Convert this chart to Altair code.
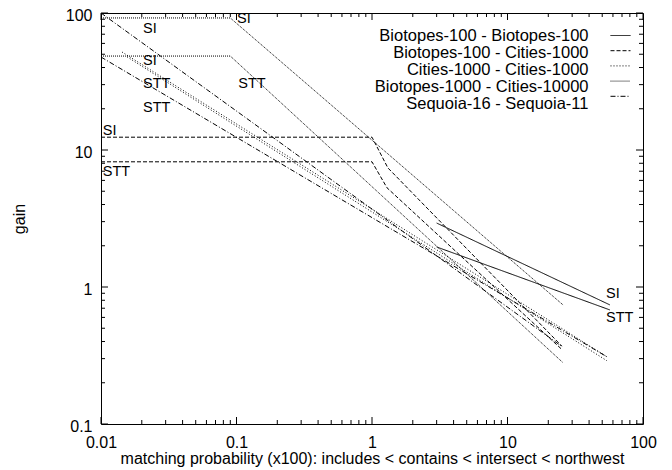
import altair as alt
import pandas as pd

FONT = "Liberation Sans"
W, H = 542, 411

series_names = [
    "Biotopes-100 - Biotopes-100",
    "Biotopes-100 - Cities-1000",
    "Cities-1000 - Cities-1000",
    "Biotopes-1000 - Cities-10000",
    "Sequoia-16 - Sequoia-11",
]
dash_styles = [[1, 0], [4, 2], [1, 2], [1, 1], [5, 2, 1, 2]]

# --- data (x = matching probability x100, y = gain) ---
bio100_si_x = [3.0, 57.0]
bio100_si_y = [2.93, 0.74]
bio100_stt_x = [3.0, 57.0]
bio100_stt_y = [1.96, 0.68]

bc_si_x = [0.01, 1.0, 1.31, 25.2]
bc_si_y = [12.4, 12.4, 7.4, 0.37]
bc_stt_x = [0.01, 1.0, 1.29, 25.2]
bc_stt_y = [8.2, 8.2, 5.3, 0.35]

cc_si_x = [0.0143, 54.0]
cc_si_y = [51.9, 0.31]
cc_stt_x = [0.0156, 54.0]
cc_stt_y = [47.8, 0.29]

b1c_si_x = [0.01, 0.09, 25.7]
b1c_si_y = [92.0, 92.0, 0.74]
b1c_stt_x = [0.01, 0.09, 25.7]
b1c_stt_y = [48.5, 48.5, 0.28]

seq_si_x = [0.01, 25.0]
seq_si_y = [100.0, 0.37]
seq_stt_x = [0.01, 54.0]
seq_stt_y = [47.7, 0.31]

# SI / STT annotations
label_text = ["SI", "SI", "STT", "STT", "SI", "STT", "SI", "STT", "SI", "STT"]
label_x = [0.0204, 0.0204, 0.0204, 0.0204, 0.101, 0.103, 0.0103, 0.0103, 53.3, 53.3]
label_y = [76.4, 44.7, 30.3, 20.3, 90.4, 30.3, 13.8, 6.9, 0.89, 0.59]

x_major = [0.01, 0.1, 1, 10, 100]
y_major = [0.1, 1, 10, 100]
x_minor = [m * d for d in [0.01, 0.1, 1, 10] for m in range(2, 10)]
y_minor = [m * d for d in [0.1, 1, 10] for m in range(2, 10)]

# --- build tables ---
lines = [
    (series_names[0], "SI", bio100_si_x, bio100_si_y),
    (series_names[0], "STT", bio100_stt_x, bio100_stt_y),
    (series_names[1], "SI", bc_si_x, bc_si_y),
    (series_names[1], "STT", bc_stt_x, bc_stt_y),
    (series_names[2], "SI", cc_si_x, cc_si_y),
    (series_names[2], "STT", cc_stt_x, cc_stt_y),
    (series_names[3], "SI", b1c_si_x, b1c_si_y),
    (series_names[3], "STT", b1c_stt_x, b1c_stt_y),
    (series_names[4], "SI", seq_si_x, seq_si_y),
    (series_names[4], "STT", seq_stt_x, seq_stt_y),
]
rows = []
for s, v, xv_list, yv_list in lines:
    for i, (xv, yv) in enumerate(zip(xv_list, yv_list)):
        rows.append({"series": s, "name": s, "line": s + "|" + v, "i": i, "x": xv, "y": yv})
df = pd.DataFrame(rows)
labels_df = pd.DataFrame({"x": label_x, "y": label_y, "t": label_text})

xs = alt.Scale(type="log", domain=[0.01, 100], nice=False)
ys = alt.Scale(type="log", domain=[0.1, 100], nice=False)

x_axis = alt.Axis(
    values=x_major, format="~g", ticks=False, domain=False, grid=False,
    labelPadding=10, labelFlush=False, labelOverlap=False,
    title="matching probability (x100): includes < contains < intersect < northwest",
    titlePadding=0,
)
y_axis = alt.Axis(
    values=y_major, format="~g", ticks=False, domain=False, grid=False,
    labelPadding=9, labelFlush=False, labelOverlap=False, labelOffset=2,
    title="gain", titlePadding=38,
)

line_layer = alt.Chart(df).mark_line(strokeWidth=1, clip=True).encode(
    x=alt.X("x:Q", scale=xs, axis=x_axis),
    y=alt.Y("y:Q", scale=ys, axis=y_axis),
    # legend samples (symbols only)
    strokeDash=alt.StrokeDash(
        "series:N",
        scale=alt.Scale(domain=series_names, range=dash_styles),
        legend=alt.Legend(
            title=None, orient="none", legendX=509, legendY=15, padding=0, offset=0,
            symbolType="stroke", symbolSize=400, symbolStrokeColor="black",
            symbolStrokeWidth=1, clipHeight=15, rowPadding=0.2,
            labelExpr="''", labelFontSize=1,
        ),
    ),
    # legend texts (labels only, right-aligned to the left of the samples)
    color=alt.Color(
        "name:N",
        sort=series_names,
        scale=alt.Scale(range=["black"] * 5),
        legend=alt.Legend(
            title=None, orient="none", legendX=471, legendY=15, padding=0, offset=0,
            symbolSize=0, symbolOpacity=0, symbolStrokeWidth=0,
            rowPadding=-1.8, labelAlign="right", labelOffset=0,
            labelFontSize=16.5, labelFont=FONT, labelColor="black", labelLimit=400,
        ),
    ),
    detail="line:N",
    order="i:Q",
)

text_layer = alt.Chart(labels_df).mark_text(
    align="left", baseline="middle", fontSize=14.5, font=FONT, color="black"
).encode(
    x=alt.X("x:Q", scale=xs, axis=x_axis),
    y=alt.Y("y:Q", scale=ys, axis=y_axis),
    text="t:N",
)


def xticks(vals, length):
    d = pd.DataFrame({"x": vals})
    bottom = alt.Chart(d).mark_rule(color="black", strokeWidth=1).encode(
        x=alt.X("x:Q", scale=xs, axis=x_axis), y=alt.value(H), y2=alt.value(H - length)
    )
    top = alt.Chart(d).mark_rule(color="black", strokeWidth=1).encode(
        x=alt.X("x:Q", scale=xs, axis=x_axis), y=alt.value(0), y2=alt.value(length)
    )
    return [bottom, top]


def yticks(vals, length):
    d = pd.DataFrame({"y": vals})
    left = alt.Chart(d).mark_rule(color="black", strokeWidth=1).encode(
        y=alt.Y("y:Q", scale=ys, axis=y_axis), x=alt.value(0), x2=alt.value(length)
    )
    right = alt.Chart(d).mark_rule(color="black", strokeWidth=1).encode(
        y=alt.Y("y:Q", scale=ys, axis=y_axis), x=alt.value(W), x2=alt.value(W - length)
    )
    return [left, right]


tick_layers = xticks(x_major, 7) + xticks(x_minor, 4) + yticks(y_major, 7) + yticks(y_minor, 4)

chart = alt.layer(line_layer, text_layer, *tick_layers).properties(
    width=W, height=H,
    background="white",
    autosize=alt.AutoSizeParams(type="none"),
    padding={"left": 93, "top": 5, "right": 21, "bottom": 46},
).configure_view(
    stroke="black", strokeWidth=1
).configure_axis(
    labelFont=FONT, labelFontSize=16, labelColor="black",
    titleFont=FONT, titleFontSize=16, titleColor="black", titleFontWeight="normal",
)

chart.save("out.html", embed_options={"renderer": "svg", "actions": False})
